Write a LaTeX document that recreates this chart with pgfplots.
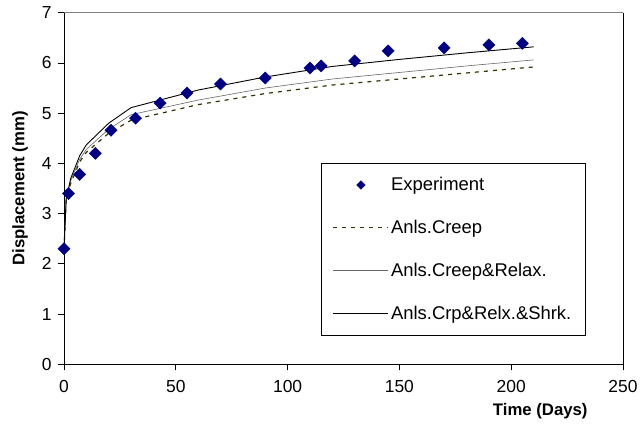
\documentclass[border=0pt]{standalone}
\usepackage{pgfplots}
\pgfplotsset{compat=1.18}
\usepackage{fontspec}
\setmainfont{Liberation Sans}
\definecolor{expblue}{RGB}{0,0,128}
\definecolor{creepolive}{RGB}{51,51,0}
\pgfplotsset{
  linelegend/.style={legend image code/.code={\draw[##1] (0bp,0bp) -- (55bp,0bp);}},
  marklegend/.style={legend image code/.code={\draw[mark repeat=2,mark phase=2,##1] plot coordinates {(0bp,0bp) (27.5bp,0bp) (55bp,0bp)};}},
}

\begin{document}
\begin{tikzpicture}
% overall page extent around the plot area
\path[use as bounding box] (-64bp,-60.7bp) rectangle (577bp,364.3bp);
\begin{axis}[
  at={(0,0)}, anchor=south west,
  scale only axis, width=559bp, height=351.6bp,
  xmin=0, xmax=250, ymin=0, ymax=7,
  xtick={0,50,100,150,200,250}, ytick={0,1,2,3,4,5,6,7},
  tick align=outside, xtick pos=bottom, ytick pos=left,
  major tick length=6bp,
  tick style={black, line width=0.8bp},
  axis line style={draw=none},
  clip=false,
  /pgf/number format/assume math mode=true,
  tick label style={font=\fontsize{17.5}{20}\selectfont},
  xticklabel style={yshift=-7bp},
  yticklabel style={xshift=-3bp},
  xlabel={\textbf{Time (Days)}},
  ylabel={\textbf{Displacement (mm)}},
  label style={font=\fontsize{16.8}{19}\selectfont},
  xlabel style={at={(rel axis cs:0.852,-0.132)}, anchor=center},
  ylabel style={at={(rel axis cs:-0.0787,0.5)}, anchor=center, rotate=0},
  legend style={at={(rel axis cs:0.459,0.5717)}, anchor=north west,
    draw=black, line width=0.6bp, fill=white,
    font=\fontsize{18.5}{20}\selectfont,
    inner xsep=12bp, inner ysep=12bp, row sep=24bp, column sep=0bp,
    cells={anchor=west}},
]
% legend images (entries listed in the original series order)
\addlegendimage{only marks, mark=square*, mark size=3bp, mark options={rotate=45, fill=expblue, draw=expblue}, marklegend}
\addlegendentry{Experiment}
\addlegendimage{creepolive, line width=1.2bp, dash pattern=on 4bp off 5bp, linelegend}
\addlegendentry{Anls.Creep}
\addlegendimage{black!60, line width=0.6bp, linelegend}
\addlegendentry{Anls.Creep\&Relax.}
\addlegendimage{black, line width=0.9bp, linelegend}
\addlegendentry{Anls.Crp\&Relx.\&Shrk.}

% analytical: creep only
\addplot[forget plot, creepolive, line width=1.2bp, dash pattern=on 4bp off 5bp] coordinates {
 (0,2.3) (1,3.3) (3,3.6) (7,4.03) (10,4.22) (20,4.60) (30,4.86) (60,5.17)
 (90,5.39) (120,5.56) (150,5.68) (180,5.80) (210,5.92)};
% analytical: creep and relaxation
\addplot[forget plot, black!60, line width=0.6bp] coordinates {
 (0,2.3) (1,3.3) (3,3.65) (7,4.08) (10,4.28) (20,4.68) (30,4.97) (60,5.26)
 (90,5.50) (120,5.68) (150,5.81) (180,5.94) (210,6.06)};
% analytical: creep, relaxation and shrinkage
\addplot[forget plot, black, line width=0.9bp] coordinates {
 (0,2.3) (1,3.3) (3,3.7) (7,4.15) (10,4.37) (20,4.80) (30,5.11) (60,5.46)
 (90,5.72) (120,5.93) (150,6.07) (180,6.20) (210,6.32)};
% measured displacements
\addplot[forget plot, only marks, mark=square*, mark size=4.3bp,
  mark options={rotate=45, fill=expblue, draw=expblue}] coordinates {
 (0,2.30) (2,3.40) (7,3.78) (14,4.20) (21,4.66) (32,4.90) (43,5.20) (55,5.40)
 (70,5.58) (90,5.70) (110,5.90) (115,5.94) (130,6.04) (145,6.24) (170,6.30)
 (190,6.36) (205,6.39)};

% plot area frame
\draw[black!50, line width=0.8bp] (rel axis cs:0,1) -- (rel axis cs:1,1);
\draw[black, line width=0.8bp] (rel axis cs:1,1) -- (rel axis cs:1,0);
\draw[black, line width=0.9bp] (rel axis cs:0,1) -- (rel axis cs:0,0) -- (rel axis cs:1,0);
\end{axis}
\end{tikzpicture}
\end{document}
